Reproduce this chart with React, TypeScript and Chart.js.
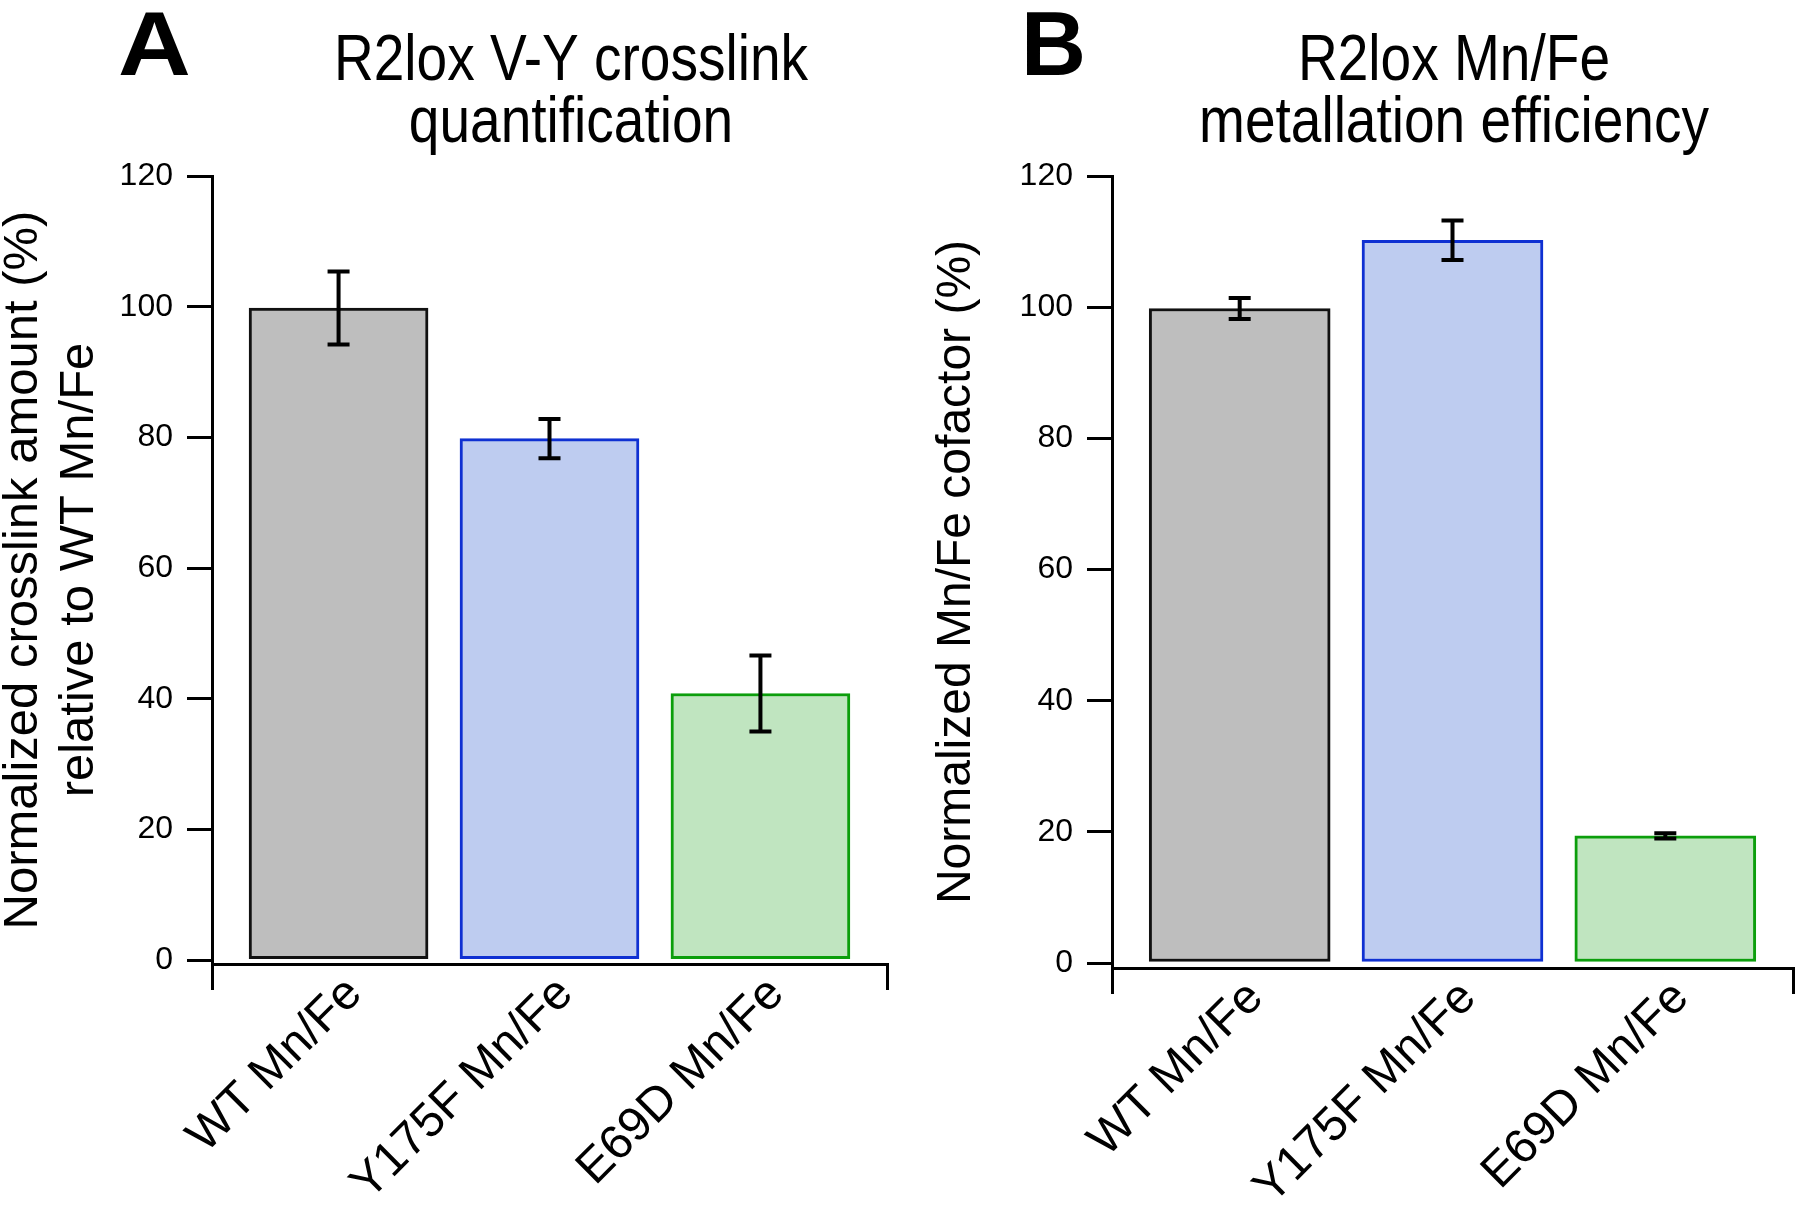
import React, { useEffect, useRef } from 'react';
import { Chart, registerables } from 'chart.js';

Chart.register(...registerables);

// ---------- data ----------
const categories = ['WT Mn/Fe', 'Y175F Mn/Fe', 'E69D Mn/Fe'];
const crosslinkValues = [99.8, 79.8, 40.8];
const crosslinkErrors = [5.6, 3.0, 5.8];
const metallationValues = [99.8, 110.2, 19.4];
const metallationErrors = [1.6, 3.0, 0.4];
const yTickValues = [0, 20, 40, 60, 80, 100, 120];
const titleA = ['R2lox V-Y crosslink', 'quantification'];
const titleB = ['R2lox Mn/Fe', 'metallation efficiency'];
const yTitleA = ['Normalized crosslink amount (%)', 'relative to WT Mn/Fe'];
const yTitleB = 'Normalized Mn/Fe cofactor (%)';

// ---------- styles ----------
const FONT = '"Liberation Sans", Arial, Helvetica, sans-serif';
const fillColors = ['#BEBEBE', '#BECCF0', '#C0E5C0'];
const borderColors = ['#111111', '#0F30D2', '#0C9E0C'];
const borderWidths = [3, 3, 3];

type PanelCfg = {
  values: number[];
  errors: number[];
  title: string[];
  yTitle: string | string[];
  yTitleSize: number;
  yTitlePad: number;
  letter: string;
  letterX: number;
  letterScale: number;
  titleX: number;
  yMin: number;
  xScaleHeight: number;
  padRight: number;
  barThickness: number;
};

function makeErrorBarPlugin(errors: number[]) {
  return {
    id: 'errorBars',
    afterDatasetsDraw(chart: any) {
      const { ctx } = chart;
      const xs = chart.scales.x;
      const ys = chart.scales.y;
      const ds = chart.data.datasets[0];
      ctx.save();
      ctx.strokeStyle = '#000';
      ctx.lineWidth = 4;
      ctx.lineCap = 'butt';
      ds.data.forEach((pt: any, i: number) => {
        const px = xs.getPixelForValue(pt.x);
        const top = ys.getPixelForValue(pt.y + errors[i]);
        const bot = ys.getPixelForValue(pt.y - errors[i]);
        ctx.beginPath();
        ctx.moveTo(px, top);
        ctx.lineTo(px, bot);
        ctx.moveTo(px - 11, top);
        ctx.lineTo(px + 11, top);
        ctx.moveTo(px - 11, bot);
        ctx.lineTo(px + 11, bot);
        ctx.stroke();
      });
      ctx.restore();
    },
  };
}

function makePanelTextPlugin(
  letter: string,
  letterX: number,
  letterScale: number,
  lines: string[],
  titleX: number
) {
  return {
    id: 'panelText',
    afterDraw(chart: any) {
      const ctx = chart.ctx;
      ctx.save();
      ctx.fillStyle = '#000';
      ctx.textBaseline = 'alphabetic';
      ctx.textAlign = 'left';
      ctx.font = `bold 90px ${FONT}`;
      ctx.save();
      ctx.translate(letterX, 75);
      ctx.scale(letterScale, 1);
      ctx.fillText(letter, 0, 0);
      ctx.restore();
      ctx.font = `64px ${FONT}`;
      ctx.textAlign = 'center';
      const baselines = [80, 142];
      lines.forEach((line, i) => {
        ctx.save();
        ctx.translate(titleX, baselines[i]);
        ctx.scale(0.86, 1);
        ctx.fillText(line, 0, 0);
        ctx.restore();
      });
      ctx.restore();
    },
  };
}

function buildConfig(cfg: PanelCfg): any {
  const data = cfg.values.map((v, i) => ({ x: i, y: v }));
  const isEndTick = (v: number) => v < -0.1 || v > 2.1;
  return {
    type: 'bar',
    data: {
      datasets: [
        {
          data,
          backgroundColor: fillColors,
          borderColor: borderColors,
          borderWidth: borderWidths,
          borderSkipped: false,
          barThickness: cfg.barThickness,
        },
      ],
    },
    options: {
      responsive: false,
      animation: false,
      devicePixelRatio: 1,
      layout: { padding: { top: 176, right: cfg.padRight, bottom: 0, left: 0 } },
      plugins: {
        legend: { display: false },
        tooltip: { enabled: false },
        title: { display: false },
      },
      scales: {
        x: {
          type: 'linear',
          offset: false,
          min: -0.6,
          max: 2.6,
          afterBuildTicks: (s: any) => {
            s.ticks = [-0.6, 0, 1, 2, 2.6].map((v) => ({ value: v }));
          },
          afterFit: (s: any) => {
            s.height = cfg.xScaleHeight;
            s.paddingLeft = 0;
            s.paddingRight = 0;
          },
          grid: {
            offset: false,
            drawOnChartArea: false,
            drawTicks: true,
            tickLength: 26,
            lineWidth: 3,
            color: (c: any) => (c.tick && isEndTick(c.tick.value) ? '#000' : 'rgba(0,0,0,0)'),
          },
          border: { display: true, color: '#000', width: 3 },
          ticks: {
            autoSkip: false,
            minRotation: 45,
            maxRotation: 45,
            padding: -24,
            labelOffset: 16,
            color: '#000',
            font: { family: FONT, size: 48 },
            callback: (value: any) => {
              const idx = Math.round(Number(value));
              if (Math.abs(Number(value) - idx) > 0.01) return '';
              return categories[idx] ?? '';
            },
          },
        },
        y: {
          type: 'linear',
          min: cfg.yMin,
          max: 120,
          afterBuildTicks: (s: any) => {
            s.ticks = yTickValues.map((v) => ({ value: v }));
          },
          afterFit: (s: any) => {
            s.width = 212;
          },
          grid: {
            drawOnChartArea: false,
            drawTicks: true,
            tickLength: 25,
            lineWidth: 3,
            color: '#000',
          },
          border: { display: true, color: '#000', width: 3 },
          ticks: {
            padding: 14,
            color: '#000',
            font: { family: FONT, size: 32 },
          },
          title: {
            display: true,
            text: cfg.yTitle,
            color: '#000',
            font: { family: FONT, size: cfg.yTitleSize, lineHeight: 1.163 },
            padding: { top: cfg.yTitlePad, bottom: 0 },
          },
        },
      },
    },
    plugins: [
      makeErrorBarPlugin(cfg.errors),
      makePanelTextPlugin(cfg.letter, cfg.letterX, cfg.letterScale, cfg.title, cfg.titleX),
    ],
  };
}

const panelA: PanelCfg = {
  values: crosslinkValues,
  errors: crosslinkErrors,
  title: titleA,
  yTitle: yTitleA,
  yTitleSize: 49,
  yTitlePad: -5.5,
  letter: 'A',
  letterX: 118,
  letterScale: 1.12,
  titleX: 571,
  yMin: -0.6,
  xScaleHeight: 248,
  padRight: 13,
  barThickness: 179,
};

const panelB: PanelCfg = {
  values: metallationValues,
  errors: metallationErrors,
  title: titleB,
  yTitle: yTitleB,
  yTitleSize: 48,
  yTitlePad: 28.5,
  letter: 'B',
  letterX: 121,
  letterScale: 1.0,
  titleX: 554,
  yMin: -0.76,
  xScaleHeight: 244,
  padRight: 7,
  barThickness: 181,
};

export default function App() {
  const refA = useRef<HTMLCanvasElement | null>(null);
  const refB = useRef<HTMLCanvasElement | null>(null);

  useEffect(() => {
    Chart.defaults.font.family = FONT;
    const charts: Chart[] = [];
    if (refA.current) charts.push(new Chart(refA.current, buildConfig(panelA)));
    if (refB.current) charts.push(new Chart(refB.current, buildConfig(panelB)));
    return () => {
      charts.forEach((c) => c.destroy());
    };
  }, []);

  return (
    <div
      style={{
        position: 'absolute',
        left: 0,
        top: 0,
        width: 1800,
        height: 1212,
        background: '#ffffff',
        overflow: 'hidden',
      }}
    >
      <canvas
        ref={refA}
        width={900}
        height={1212}
        style={{ position: 'absolute', left: 0, top: 0, width: 900, height: 1212 }}
      />
      <canvas
        ref={refB}
        width={900}
        height={1212}
        style={{ position: 'absolute', left: 900, top: 0, width: 900, height: 1212 }}
      />
    </div>
  );
}
